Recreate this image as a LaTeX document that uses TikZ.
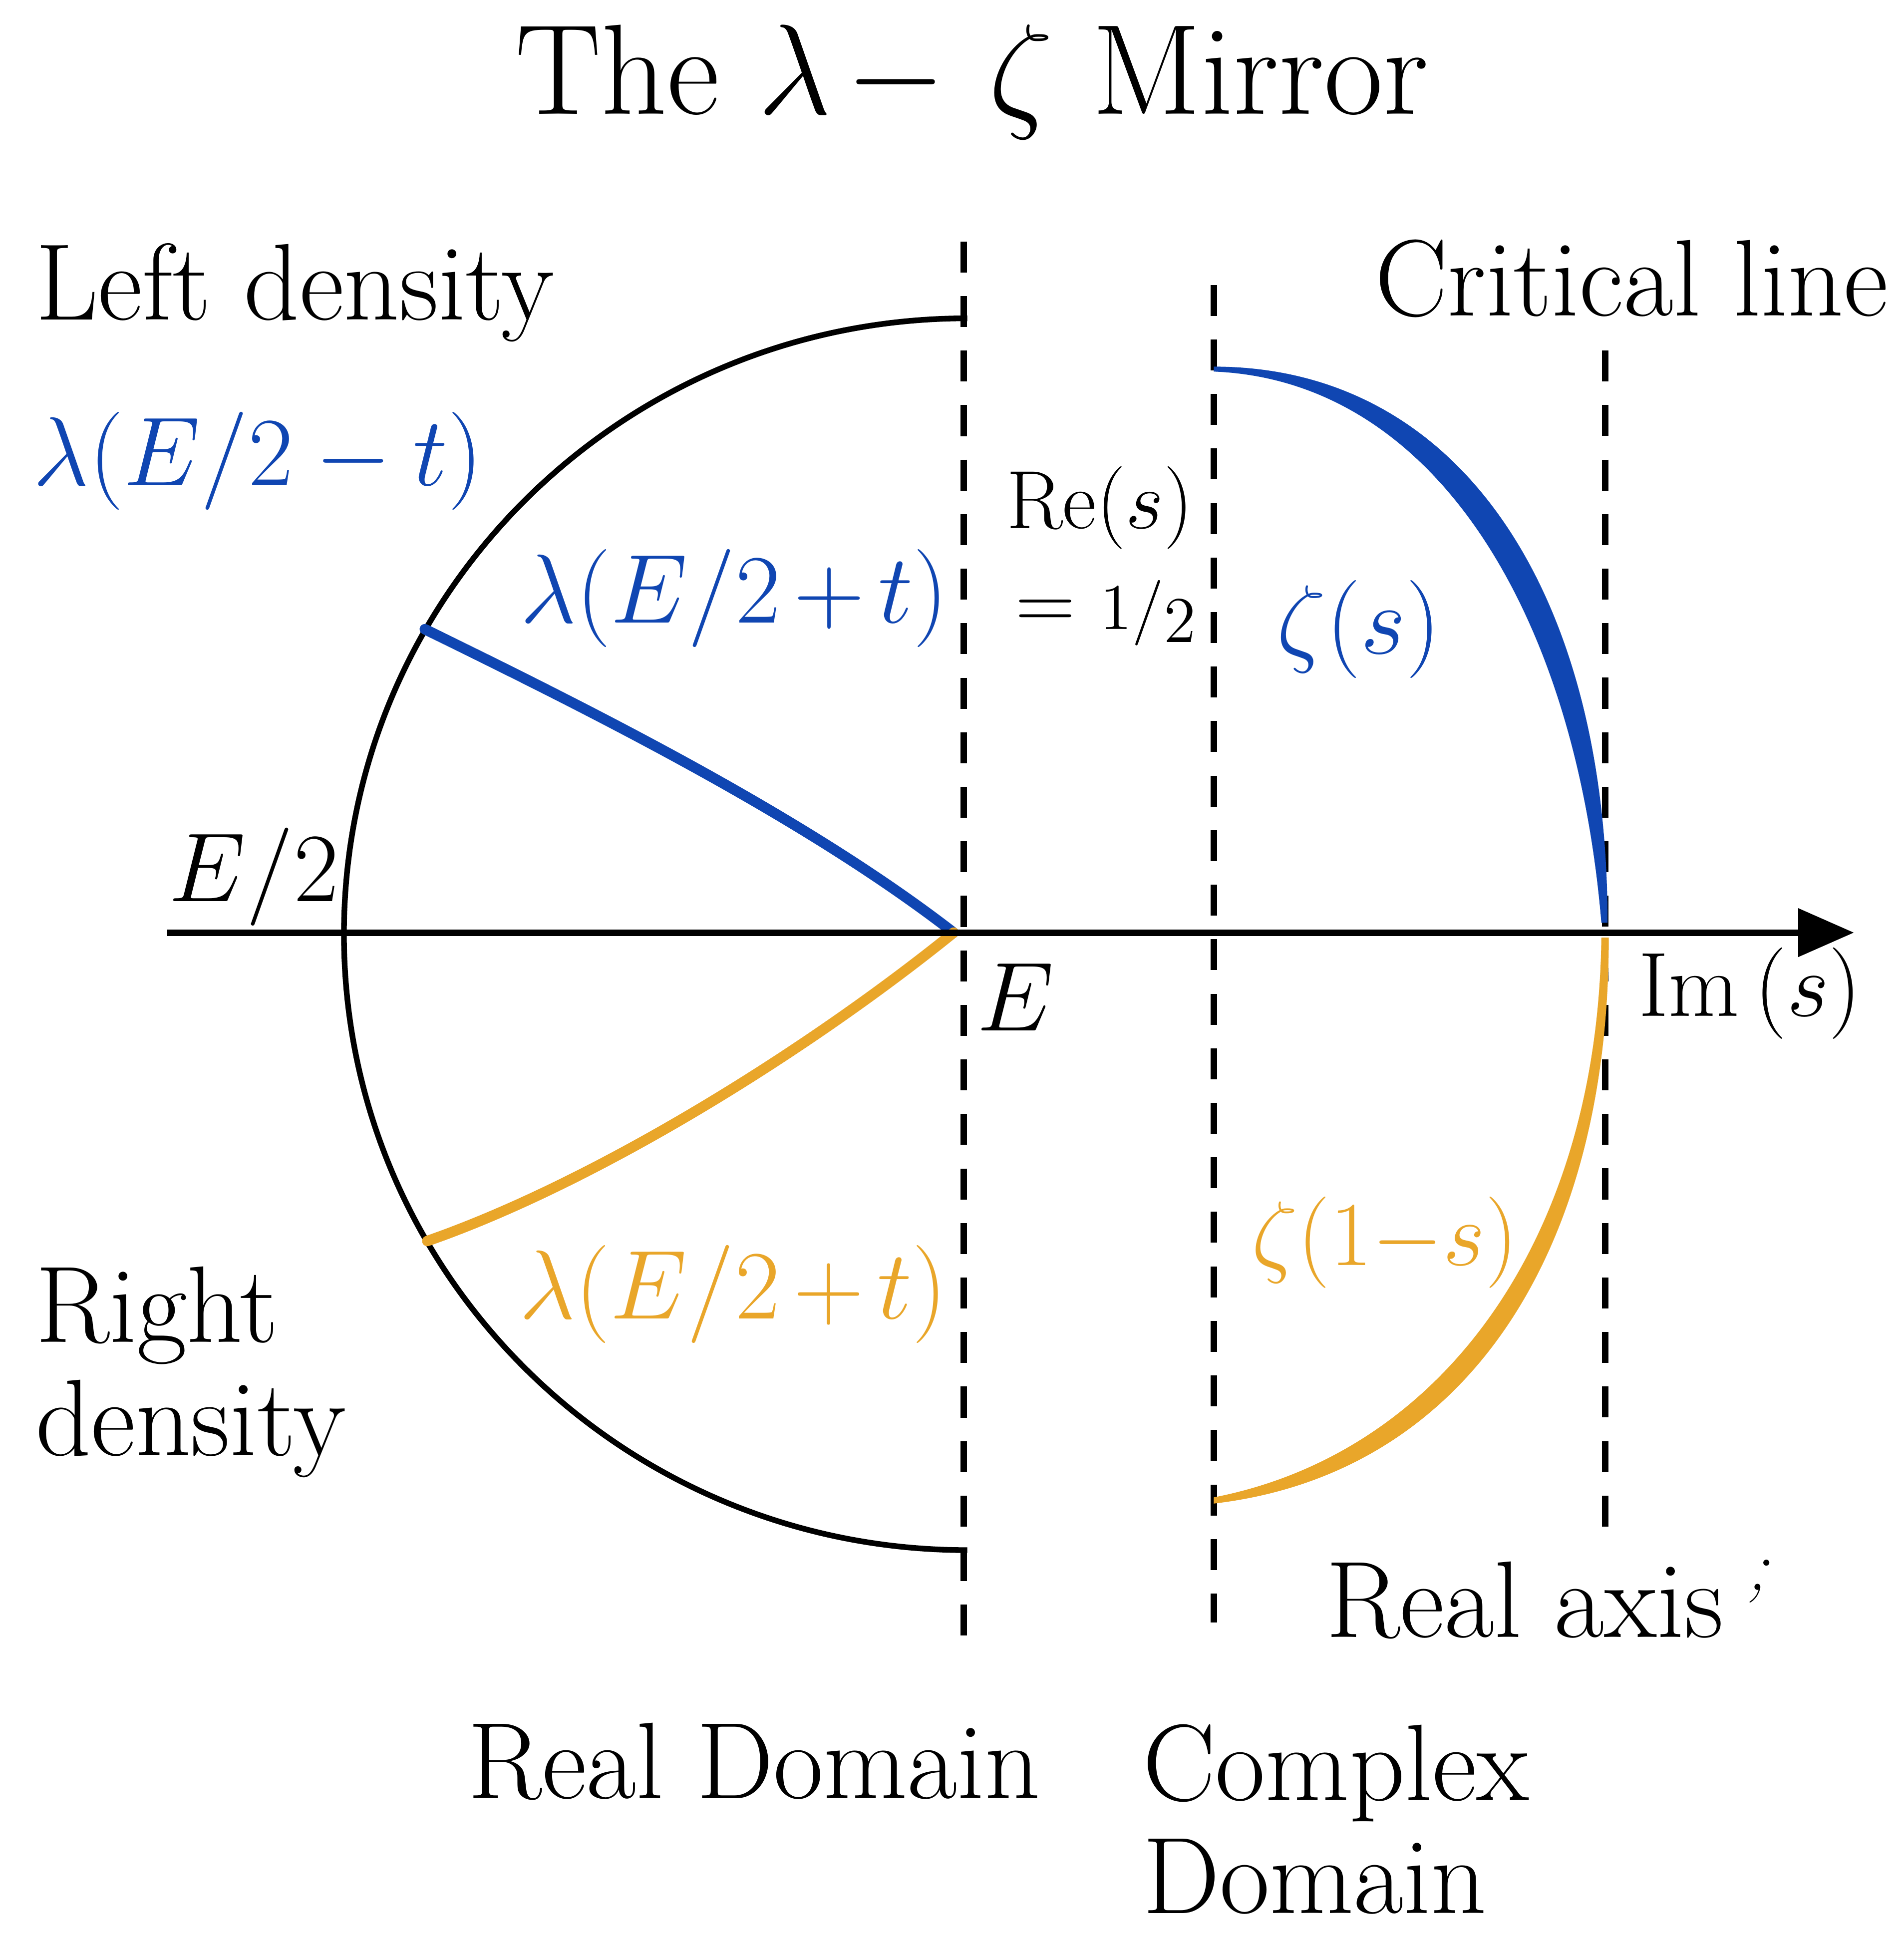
\RequirePackage{fix-cm}
\documentclass[tikz,border=0pt]{standalone}
\usepackage{amsmath}
\usetikzlibrary{arrows.meta}
\definecolor{lamblue}{RGB}{16,70,178}
\definecolor{lamorange}{RGB}{233,166,42}
\begin{document}
\begin{tikzpicture}[x=0.01cm,y=-0.01cm,
  txt/.style={font=\fontsize{25}{26}\selectfont, inner sep=0pt},
  mth/.style={font=\fontsize{22.5}{26}\selectfont, inner sep=0pt},
  small/.style={font=\fontsize{19}{22}\selectfont, inner sep=0pt},
  dline/.style={line width=1.5pt, dash pattern=on 0.25cm off 0.19cm},
  axisline/.style={line width=1.5pt, -{Triangle[length=0.45cm,width=0.38cm]}},
  lamline/.style={line width=2.4pt, line cap=round},
]
\useasboundingbox (0,0) rectangle (1537,1568);

% coordinates
\coordinate (axL) at (135,753);
\coordinate (axR) at (1497,753);
\coordinate (d1t) at (778,195);  \coordinate (d1b) at (778,1335);
\coordinate (d2t) at (980,230);  \coordinate (d2b) at (980,1310);
\coordinate (d3t) at (1296,283); \coordinate (d3b) at (1296,1240);
\coordinate (arcT) at (781,257);
\coordinate (E) at (770,753);
\coordinate (pB) at (343,508);
\coordinate (pO) at (345,1002);

% dashed lines
\draw[dline] (d1t) -- (d1b);
\draw[dline] (d2t) -- (d2b);
\draw[dline] (d3t) -- (d3b);

% black arc
\draw[line width=1.3pt] (arcT) arc[start angle=90,end angle=270,x radius=5.03cm,y radius=4.97cm];

% lambda curves
\draw[lamline, lamblue] (pB) .. controls (480,575) and (650,660) .. (E);
\draw[lamline, lamorange] (pO) .. controls (480,955) and (650,850) .. (E);

% zeta curves
\fill[lamblue] (980,296) .. controls (1180,296) and (1298,480) .. (1298,745)
  -- (1293,745) .. controls (1272,495) and (1158,307) .. (980,300) -- cycle;
\fill[lamorange] (980,1214) .. controls (1185,1190) and (1299,1010) .. (1299,757)
  -- (1293,757) .. controls (1290,1000) and (1165,1173) .. (980,1209) -- cycle;

% axis
\draw[axisline] (axL) -- (axR);

% title
\node[font=\fontsize{29.5}{34}\selectfont, inner sep=0pt, anchor=base] (title) at (785,92) {The $\lambda\mkern2mu{-}\mkern6mu\zeta$ Mirror};

% labels
\node[txt, anchor=base west] (left) at (28,258) {Left density};
\node[mth, anchor=west, text=lamblue] (lamL) at (26,372) {$\lambda(E/2-t)$};
\node[mth, anchor=east, text=lamblue] (lamU) at (766,483) {$\lambda(E/2\mkern-1.5mu+\mkern-1.5mu t)$};
\node[small, anchor=center] (res) at (888,410) {$\mathrm{Re}(s)$};
\node[small, anchor=center] (half) at (893,495) {$=$\hspace{0.3em}{\fontsize{15}{18}\selectfont$1/$\raisebox{-0.45ex}{$2$}}};
\node[mth, anchor=center, text=lamblue] (zs) at (1097,508) {$\zeta(s)$};
\node[txt, anchor=base east] (crit) at (1525,255) {Critical line};
\node[mth, anchor=center] (Ehalf) at (205,708) {$E/2$};
\node[mth, anchor=center] (Elab) at (820,805) {$E$};
\node[mth, anchor=center, font=\fontsize{21}{26}\selectfont] (ims) at (1413,802) {$\mathrm{Im}\,(s)$};
\node[mth, anchor=center, text=lamorange, font=\fontsize{21}{26}\selectfont] (z1s) at (1118,1003) {$\zeta(1{-}s)$};
\node[mth, anchor=center, text=lamorange] (lamD) at (592,1045) {$\lambda(E/2\mkern-1.5mu+\mkern-1.5mu t)$};
\node[txt, anchor=base west, align=left] (right) at (28,1175) {Right\\density};
\node[txt, anchor=base west] (raxis) at (1070,1322) {Real axis};
\node[font=\fontsize{17}{17}\selectfont, inner sep=0pt, rotate=-20] (mark) at (1421,1277) {;};
\node[txt, anchor=base] (rdom) at (609,1452) {Real Domain};
\node[txt, anchor=base west, align=left] (cdom) at (922,1545) {Complex\\Domain};
\end{tikzpicture}
\end{document}
